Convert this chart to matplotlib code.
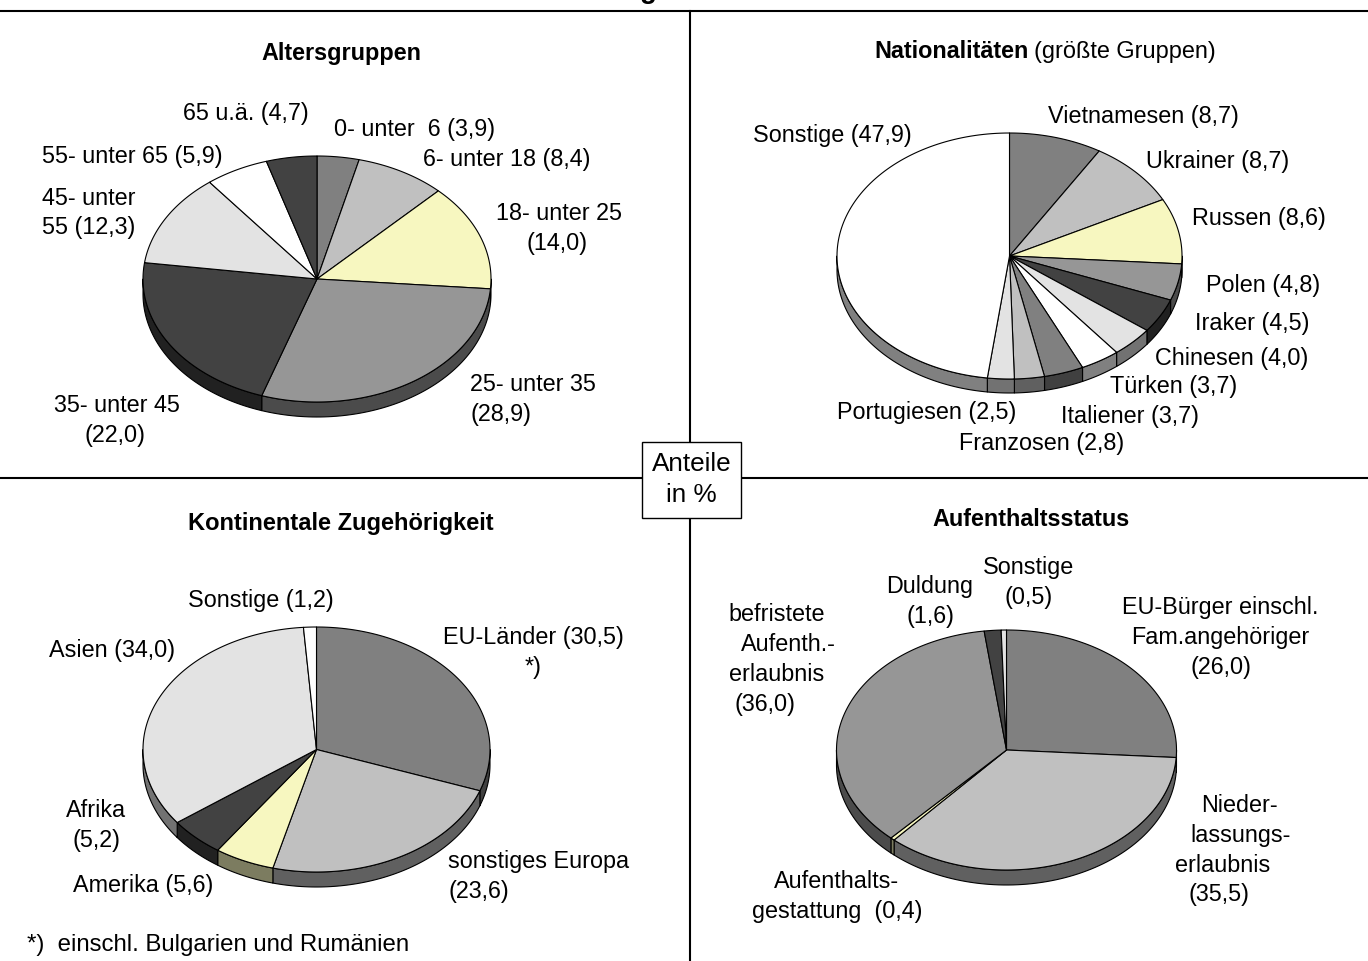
import numpy as np
import matplotlib
matplotlib.use("Agg")
import matplotlib.pyplot as plt
from matplotlib.colors import to_rgb

plt.rcParams["font.family"] = ["Liberation Sans", "DejaVu Sans"]

W, H = 1368, 961
FS = 16.85

# slice values in percent
alter_values = [3.9, 8.4, 14.0, 28.9, 22.0, 12.3, 5.9, 4.7]
nation_values = [8.7, 8.7, 8.6, 4.8, 4.5, 4.0, 3.7, 3.7, 2.8, 2.5, 47.9]
kontinent_values = [30.5, 23.6, 5.6, 5.2, 34.0, 1.2]
status_values = [26.0, 35.5, 0.4, 36.0, 1.6, 0.5]

GR = "#808080"
LG = "#c0c0c0"
YE = "#f7f7c0"
MG = "#969696"
DK = "#424242"
PA = "#e3e3e3"
WH = "#ffffff"

alter_colors = [GR, LG, YE, MG, DK, PA, WH, DK]
nation_colors = [GR, LG, YE, MG, DK, PA, WH, GR, LG, PA, WH]
kontinent_colors = [GR, LG, YE, DK, PA, WH]
status_colors = [GR, LG, YE, MG, DK, PA]

# text lines: left edge, vertical centre, text
alter_labels = [
    (183, 112, "65 u.ä. (4,7)"),
    (334, 128, "0- unter  6 (3,9)"),
    (423, 158, "6- unter 18 (8,4)"),
    (42, 155, "55- unter 65 (5,9)"),
    (42, 197, "45- unter"),
    (42, 226, "55 (12,3)"),
    (496, 212, "18- unter 25"),
    (527, 242, "(14,0)"),
    (470, 383, "25- unter 35"),
    (470, 413, "(28,9)"),
    (54, 404, "35- unter 45"),
    (85, 434, "(22,0)"),
]
nation_labels = [
    (753, 134, "Sonstige (47,9)"),
    (1048, 115, "Vietnamesen (8,7)"),
    (1146, 160, "Ukrainer (8,7)"),
    (1192, 217, "Russen (8,6)"),
    (1206, 284, "Polen (4,8)"),
    (1195, 322, "Iraker (4,5)"),
    (1155, 357, "Chinesen (4,0)"),
    (1110, 385, "Türken (3,7)"),
    (1061, 415, "Italiener (3,7)"),
    (837, 411, "Portugiesen (2,5)"),
    (959, 442, "Franzosen (2,8)"),
]
kontinent_labels = [
    (188, 599, "Sonstige (1,2)"),
    (443, 636, "EU-Länder (30,5)"),
    (525, 666, "*)"),
    (49, 649, "Asien (34,0)"),
    (66, 809, "Afrika"),
    (72, 839, "(5,2)"),
    (73, 884, "Amerika (5,6)"),
    (448, 860, "sonstiges Europa"),
    (448, 890, "(23,6)"),
]
status_labels = [
    (983, 566, "Sonstige"),
    (1005, 596, "(0,5)"),
    (886, 585, "Duldung"),
    (906, 615, "(1,6)"),
    (1122, 606, "EU-Bürger einschl."),
    (1131, 636, "Fam.angehöriger"),
    (1190, 666, "(26,0)"),
    (728, 613, "befristete"),
    (741, 643, "Aufenth.-"),
    (729, 673, "erlaubnis"),
    (735, 703, "(36,0)"),
    (1201, 804, "Nieder-"),
    (1190, 834, "lassungs-"),
    (1175, 864, "erlaubnis"),
    (1188, 893, "(35,5)"),
    (774, 880, "Aufenthalts-"),
    (752, 910, "gestattung  (0,4)"),
]


def put(ax, x, y, s, **kw):
    # y is the middle of the x-height band, so go down to the baseline
    ax.text(x, y + 8, s, fontsize=kw.pop("fontsize", FS), va="baseline", **kw)


def pie3d(ax, values, colors, cx, cy, rx, ry, depth):
    """Tilted pie, clockwise from 12 o'clock, with a front rim."""
    vals = np.asarray(values, float)
    edges = np.r_[0, np.cumsum(vals)] / vals.sum() * 2 * np.pi
    for a0, a1, c in zip(edges[:-1], edges[1:], colors):
        # rim only where the slice faces the viewer
        s0, s1 = max(a0, np.pi / 2), min(a1, 3 * np.pi / 2)
        if s1 > s0:
            t = np.linspace(s0, s1, 80)
            x = cx + rx * np.sin(t)
            y = cy - ry * np.cos(t)
            side = tuple(v / 2 for v in to_rgb(c))
            ax.fill(np.r_[x, x[::-1]], np.r_[y, y[::-1] + depth],
                    fc=side, ec="k", lw=0.8, joinstyle="round")
    for a0, a1, c in zip(edges[:-1], edges[1:], colors):
        t = np.linspace(a0, a1, 120)
        x = np.r_[cx, cx + rx * np.sin(t)]
        y = np.r_[cy, cy - ry * np.cos(t)]
        ax.fill(x, y, fc=c, ec="k", lw=0.8, joinstyle="round")


fig = plt.figure(figsize=(W / 100, H / 100), dpi=100)
ax = fig.add_axes([0, 0, 1, 1])
ax.set_xlim(0, W)
ax.set_ylim(H, 0)
ax.axis("off")

pie3d(ax, alter_values, alter_colors, 317, 279, 174, 123, 15)
pie3d(ax, nation_values, nation_colors, 1009.5, 256, 172.5, 123, 14)
pie3d(ax, kontinent_values, kontinent_colors, 316.5, 749.5, 173.5, 122.5, 15)
pie3d(ax, status_values, status_colors, 1006.5, 750, 170, 120, 15)

for labels in (alter_labels, nation_labels, kontinent_labels, status_labels):
    for x, y, s in labels:
        put(ax, x, y, s)

put(ax, 27, 943, "*)  einschl. Bulgarien und Rumänien", fontsize=17.3)

put(ax, 261, 52, "Altersgruppen", fontweight="bold")
put(ax, 874, 50, "Nationalitäten", fontweight="bold")
put(ax, 1034, 50, "(größte Gruppen)", fontsize=16.95)
put(ax, 188, 522, "Kontinentale Zugehörigkeit", fontweight="bold", fontsize=17)
put(ax, 932, 518, "Aufenthaltsstatus", fontweight="bold")

# frame of the four panels
ax.plot([0, W], [11, 11], color="k", lw=1.5)
ax.plot([0, W], [478, 478], color="k", lw=1.5)
ax.plot([690, 690], [11, H], color="k", lw=1.5)

# centre box
ax.fill([642, 741, 741, 642], [442, 442, 518, 518], fc="w", ec="k", lw=1, zorder=3)
ax.text(652, 471, "Anteile", fontsize=18.8, zorder=4)
ax.text(666, 502, "in %", fontsize=18.8, zorder=4)

# main heading is cut off by the page edge, only this descender is left
ax.text(640, -2.5, "g", fontsize=20, fontweight="bold", va="baseline")

fig.savefig("out.png", dpi=100)
